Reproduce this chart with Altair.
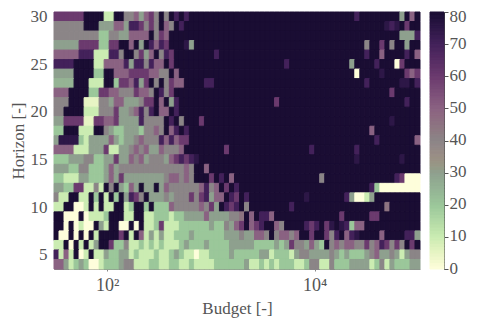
import altair as alt
import numpy as np
import pandas as pd

# value codes (one char per cell)
CODE = {'0':0,'a':5,'1':10,'b':15,'2':20,'c':25,'3':30,'d':35,'4':40,'e':45,'5':50,'f':55,'6':60,'g':65,'7':70,'h':75,'8':80}

# left part of each row, columns 0..36 (top row is horizon 30); short rows continue with '8'
left = [
 "666666888811"+"8844"+"53564848787",
 "444444888333"+"553"+"77"+"6464"+"8548"+"7",
 "444444444"+"22"+"44"+"33"+"5555"+"8465",
 "33333"+"6666"+"22"+"66"+"88"+"5838"+"7576"+"888"+"h3",
 "55555"+"777"+"111"+"77"+"4"+"88"+"46358476"+"88888888"+"7",
 "7777"+"8888"+"11"+"55"+"55"+"73"+"77"+"47"+"55"+"86",
 "3333"+"8888"+"22"+"88"+"555"+"666655"+"44"+"85",
 "cccc"+"888"+"111"+"88"+"2"+"66"+"5736848"+"46"+"55"+"8888"+"77",
 "555"+"8888"+"22"+"66"+"55"+"444655"+"4874"+"6",
 "444"+"888"+"aaa"+"44"+"3"+"55"+"333"+"466858"+"37",
 "44"+"8888"+"111"+"444"+"6"+"33"+"4574"+"78"+"55"+"87",
 "33"+"6666"+"aa"+"66"+"55"+"6"+"33"+"337"+"444"+"48784"+"888"+"6",
 "22"+"888"+"111"+"88"+"43"+"22"+"33"+"32"+"44"+"54"+"8578"+"7",
 "3"+"hhhh"+"21"+"3333"+"532"+"33"+"45"+"44"+"47575"+"66",
 "5555"+"111"+"33"+"36"+"11"+"33"+"4545"+"33"+"54445"+"88888888"+"6",
 "2223334422336335453444356767h",
 "333224422235344444444444445488"+"5",
 "22"+"111"+"33"+"22"+"2353"+"633"+"33333"+"34"+"55"+"454"+"888"+"68785"+"8",
 "33226611"+"41848325"+"3833835"+"444444"+"57458687",
 "4118811"+"8281828376483"+"33"+"4"+"34"+"44"+"64673"+"55"+"876",
 "1188001818"+"11"+"88"+"12"+"88"+"282"+"22"+"54"+"4444"+"546"+"3876",
 "88"+"000"+"8"+"01"+"112"+"888"+"11"+"88"+"1122212233335333345"+"33",
 "8808010083"+"18800808"+"1126"+"111222222322435",
 "80080808"+"18888"+"68"+"1"+"85"+"1313"+"112223222222"+"3334",
 "11"+"8"+"0818"+"13"+"886"+"22"+"4"+"1121212111232223222233",
 "7"+"15"+"18"+"01"+"8"+"11"+"3"+"22331211121123211011222232",
 "55"+"3123"+"2"+"00"+"1"+"222"+"3"+"44"+"111221122112111122222",
]

# right part of each row for the busy bottom rows, columns 37..72
right_bottom = {
 22: "685678854888"+"8767"+"86h8h7255",
 23: "433554845545886886478"+"57h"+"8888"+"5"+"8888"+"77"+"3",
 24: "333222"+"2"+"3236"+"44"+"3532"+"8454"+"55"+"44"+"64576464868",
 25: "22223312221"+"3"+"44"+"3333"+"4"+"32"+"3"+"222"+"3"+"4"+"5"+"33"+"4"+"3"+"1"+"3"+"44",
 26: "23"+"11"+"212"+"1222"+"112"+"44"+"11"+"4"+"22"+"2"+"33"+"33"+"12"+"4"+"13"+"222"+"33",
}

# isolated cells of the dark upper right: row -> {column: code}
sparse = {
 0:{60:'7',69:'3',71:'5'}, 1:{66:'h',67:'7',68:'h',70:'6'}, 2:{69:'3',70:'3',71:'3',72:'7'},
 3:{62:'4',65:'6',67:'4',70:'3'}, 4:{62:'7',65:'5',70:'7',72:'5'},
 5:{46:'7',59:'3',64:'7',68:'0',69:'6'}, 6:{60:'0',65:'h',70:'6',71:'5',72:'6'},
 7:{62:'7',69:'h',70:'h',72:'7'}, 8:{67:'6'}, 9:{44:'6',70:'7'}, 11:{67:'h'}, 12:{63:'5'},
 13:{64:'7',72:'5'}, 14:{51:'7',60:'7'}, 15:{60:'h',69:'h'},
 17:{53:'4',68:'7',69:'6',70:'0',71:'0',72:'0'},
 18:{63:'7',64:'2',65:'0',66:'0',67:'0',68:'0',69:'0',70:'0',71:'0',72:'0'},
 19:{38:'7',50:'h',58:'7',59:'3',60:'0',61:'0',62:'1',63:'3'},
 20:{36:'7',38:'4',47:'7',66:'e'},
 21:{36:'4',37:'e',39:'5',41:'7',42:'7',43:'5',57:'6',63:'6',64:'6'},
}

horizons = list(range(30, 3, -1))
n_cols = 73
edges = np.logspace(1.4868, 5.0158, n_cols + 1)

records = []
for r, h in enumerate(horizons):
    row = list(left[r].ljust(37, '8')[:37])
    tail = right_bottom.get(r, "")
    row += list(tail.ljust(36, '8')[:36])
    for c, code in sparse.get(r, {}).items():
        row[c] = code
    for c, code in enumerate(row):
        records.append({"x0": edges[c], "x1": edges[c+1], "y0": h-0.5, "y1": h+0.5, "v": CODE[code]})
df = pd.DataFrame(records)

bar = pd.DataFrame({"b0": np.arange(0, 80, 1), "b1": np.arange(1, 81, 1), "v": np.arange(0.5, 80.5, 1)})

stops = [0,10,20,30,40,50,60,70,80]
colors = ["#fefedb","#cbecb2","#9bc79a","#8ea08e","#8b8587","#8a6282","#6b3a6e","#43215a","#1a0d33"]
cscale = alt.Scale(domain=stops, range=colors, clamp=True)

FONT = "Liberation Serif"
TXT = "#555555"
LINE = "#888888"

heat = alt.Chart(df).mark_rect(strokeWidth=1).encode(
    x=alt.X("x0:Q", scale=alt.Scale(type="log", domain=[float(edges[0]), float(edges[-1])], range=[0, 366], nice=False),
            axis=alt.Axis(title="Budget [-]", values=[100, 10000], labelExpr="datum.value == 100 ? '10²' : '10⁴'",
                          grid=False, tickSize=2, tickColor=LINE, domainColor=LINE, labelFont=FONT, labelFontSize=18,
                          labelColor=TXT, titleFont=FONT, titleFontSize=17, titleColor=TXT, titleFontWeight="normal",
                          labelPadding=5, titlePadding=6)),
    x2="x1:Q",
    y=alt.Y("y0:Q", scale=alt.Scale(domain=[3.5, 30.5], nice=False, zero=False),
            axis=alt.Axis(title="Horizon [-]", values=[5,10,15,20,25,30], grid=False, ticks=False, domainColor=LINE,
                          labelFont=FONT, labelFontSize=17, labelColor=TXT, labelPadding=7, titleFont=FONT,
                          titleFontSize=17, titleColor=TXT, titleFontWeight="normal", titlePadding=3)),
    y2="y1:Q",
    color=alt.Color("v:Q", scale=cscale, legend=None),
    stroke=alt.Color("v:Q", scale=cscale, legend=None),
)

cbar = alt.Chart(bar).mark_rect(strokeWidth=1).encode(
    x=alt.value(376), x2=alt.value(390),
    y=alt.Y("b0:Q", scale=alt.Scale(domain=[0, 80], nice=False, zero=False),
            axis=alt.Axis(orient="right", title=None, values=[0,10,20,30,40,50,60,70,80], grid=False, tickSize=4,
                          tickColor="#555555", domainColor="#444444", labelFont=FONT, labelFontSize=17, labelColor=TXT,
                          labelPadding=1, labelOffset={"condition": {"test": "datum.value == 80", "value": 4}, "value": -1})),
    y2="b1:Q",
    color=alt.Color("v:Q", scale=cscale, legend=None),
    stroke=alt.Color("v:Q", scale=cscale, legend=None),
)

chart = alt.layer(heat, cbar).resolve_scale(y="independent", x="independent").properties(
    width=390, height=257,
    autosize=alt.AutoSizeParams(type="none"),
    padding={"left": 46, "top": 4, "right": 26, "bottom": 51},
).configure_view(stroke=None)

chart.save("out.html", embed_options={"renderer": "svg", "actions": False})
